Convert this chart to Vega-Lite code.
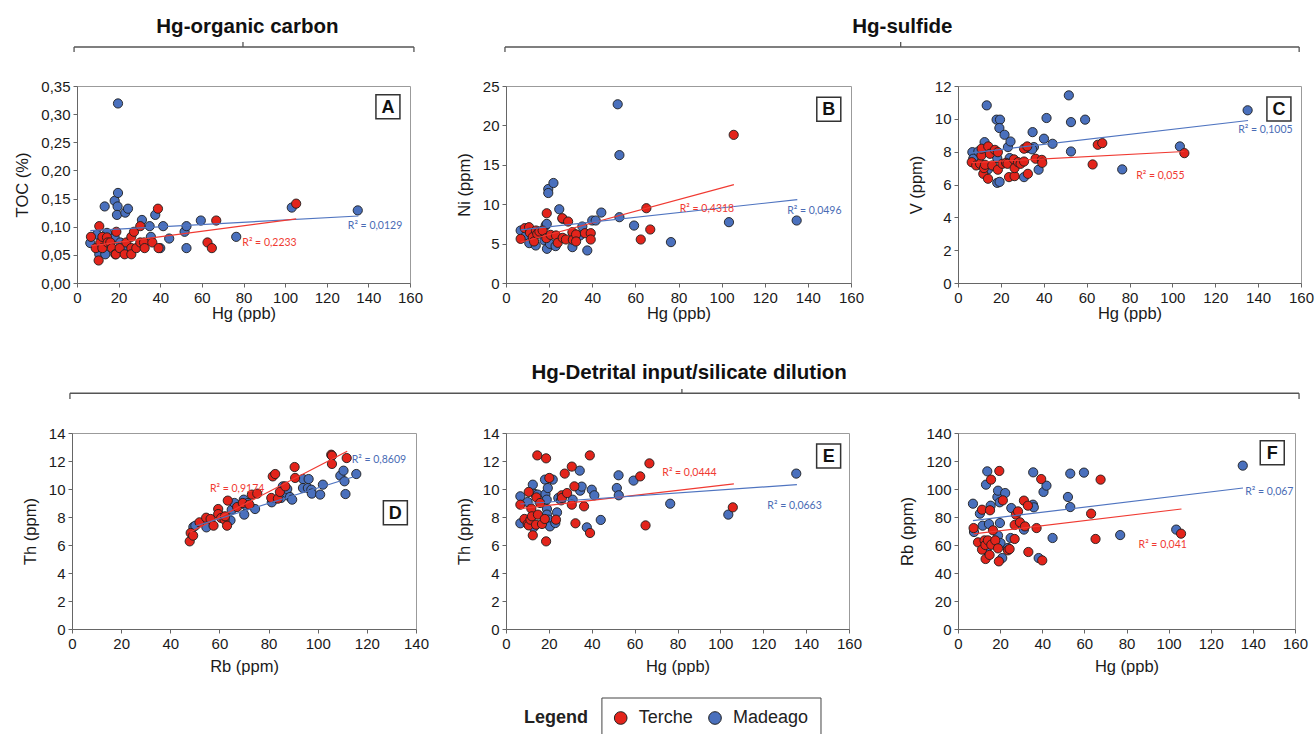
{
"$schema":"https://vega.github.io/schema/vega-lite/v6.json",
"padding":{"left":14,"top":12,"right":5,"bottom":0},
"config":{"font":"Liberation Sans","view":{"stroke":null},
"axis":{"labelFont":"Liberation Sans","labelFontSize":15,"labelColor":"#1a1a1a","labelOverlap":false,"labelFlush":false,"titleFont":"Liberation Sans","titleFontSize":16.5,"titleFontWeight":"normal","titleColor":"#1a1a1a","domainColor":"#666","tickColor":"#666","tickSize":4,"grid":false,"labelPadding":3},
"axisY":{"titlePadding":10}},
"datasets":{
"A":[{"site":"Madeago","x":6.4,"y":0.071},{"site":"Madeago","x":9.6,"y":0.086},{"site":"Madeago","x":10.7,"y":0.051},{"site":"Madeago","x":13.3,"y":0.136},{"site":"Madeago","x":13.6,"y":0.051},{"site":"Madeago","x":14.4,"y":0.089},{"site":"Madeago","x":18.1,"y":0.146},{"site":"Madeago","x":18.1,"y":0.081},{"site":"Madeago","x":19.5,"y":0.136},{"site":"Madeago","x":19.2,"y":0.121},{"site":"Madeago","x":19.7,"y":0.16},{"site":"Madeago","x":19.7,"y":0.319},{"site":"Madeago","x":23.2,"y":0.125},{"site":"Madeago","x":24.5,"y":0.132},{"site":"Madeago","x":20.8,"y":0.072},{"site":"Madeago","x":24,"y":0.062},{"site":"Madeago","x":31.2,"y":0.112},{"site":"Madeago","x":34.9,"y":0.101},{"site":"Madeago","x":35.5,"y":0.082},{"site":"Madeago","x":37.6,"y":0.121},{"site":"Madeago","x":40,"y":0.062},{"site":"Madeago","x":41.4,"y":0.101},{"site":"Madeago","x":44.3,"y":0.079},{"site":"Madeago","x":51.7,"y":0.091},{"site":"Madeago","x":52.6,"y":0.101},{"site":"Madeago","x":52.6,"y":0.062},{"site":"Madeago","x":59.5,"y":0.111},{"site":"Madeago","x":76.5,"y":0.082},{"site":"Madeago","x":103.2,"y":0.134},{"site":"Madeago","x":134.9,"y":0.129},
{"site":"Terche","x":6.7,"y":0.082},{"site":"Terche","x":9,"y":0.062},{"site":"Terche","x":10.4,"y":0.04},{"site":"Terche","x":10.7,"y":0.101},{"site":"Terche","x":11.2,"y":0.072},{"site":"Terche","x":12.2,"y":0.082},{"site":"Terche","x":12.2,"y":0.062},{"site":"Terche","x":14.4,"y":0.081},{"site":"Terche","x":14.7,"y":0.072},{"site":"Terche","x":16,"y":0.072},{"site":"Terche","x":16.8,"y":0.062},{"site":"Terche","x":18.4,"y":0.051},{"site":"Terche","x":18.9,"y":0.091},{"site":"Terche","x":18.7,"y":0.051},{"site":"Terche","x":20.5,"y":0.062},{"site":"Terche","x":22.9,"y":0.051},{"site":"Terche","x":23.7,"y":0.072},{"site":"Terche","x":26.1,"y":0.082},{"site":"Terche","x":26.1,"y":0.062},{"site":"Terche","x":26.1,"y":0.051},{"site":"Terche","x":27.4,"y":0.091},{"site":"Terche","x":28.5,"y":0.062},{"site":"Terche","x":30.4,"y":0.101},{"site":"Terche","x":30.4,"y":0.072},{"site":"Terche","x":32.2,"y":0.072},{"site":"Terche","x":32.5,"y":0.062},{"site":"Terche","x":36.2,"y":0.072},{"site":"Terche","x":38.9,"y":0.132},{"site":"Terche","x":39.2,"y":0.062},{"site":"Terche","x":62.7,"y":0.072},{"site":"Terche","x":64.8,"y":0.062},{"site":"Terche","x":66.9,"y":0.111},{"site":"Terche","x":105.3,"y":0.141}],
"B":[{"site":"Madeago","x":6.8,"y":6.66},{"site":"Madeago","x":9.3,"y":6.03},{"site":"Madeago","x":10.8,"y":5.06},{"site":"Madeago","x":12.7,"y":5.6},{"site":"Madeago","x":13.8,"y":4.76},{"site":"Madeago","x":16.5,"y":6.24},{"site":"Madeago","x":17.8,"y":5.4},{"site":"Madeago","x":18.4,"y":7.29},{"site":"Madeago","x":18.9,"y":7.5},{"site":"Madeago","x":19,"y":4.34},{"site":"Madeago","x":19.6,"y":11.93},{"site":"Madeago","x":19.6,"y":11.42},{"site":"Madeago","x":22,"y":12.69},{"site":"Madeago","x":20.4,"y":4.97},{"site":"Madeago","x":23,"y":4.68},{"site":"Madeago","x":24.7,"y":9.36},{"site":"Madeago","x":26.3,"y":8.14},{"site":"Madeago","x":30.8,"y":4.55},{"site":"Madeago","x":34.3,"y":6.03},{"site":"Madeago","x":35.4,"y":7.17},{"site":"Madeago","x":37.7,"y":4.13},{"site":"Madeago","x":40,"y":7.93},{"site":"Madeago","x":41.6,"y":7.93},{"site":"Madeago","x":44.2,"y":8.94},{"site":"Madeago","x":51.8,"y":22.68},{"site":"Madeago","x":52.6,"y":16.23},{"site":"Madeago","x":52.6,"y":8.35},{"site":"Madeago","x":59.4,"y":7.29},{"site":"Madeago","x":76.5,"y":5.19},{"site":"Madeago","x":103.4,"y":7.72},{"site":"Madeago","x":134.8,"y":7.93},
{"site":"Terche","x":6.8,"y":5.6},{"site":"Terche","x":8.7,"y":6.96},{"site":"Terche","x":10.7,"y":7.08},{"site":"Terche","x":11.1,"y":6.37},{"site":"Terche","x":12.4,"y":5.82},{"site":"Terche","x":13,"y":5.27},{"site":"Terche","x":13.9,"y":6.66},{"site":"Terche","x":14.5,"y":6.24},{"site":"Terche","x":15.5,"y":6.53},{"site":"Terche","x":17,"y":6.66},{"site":"Terche","x":18.9,"y":8.85},{"site":"Terche","x":18.7,"y":5.69},{"site":"Terche","x":20.7,"y":6.11},{"site":"Terche","x":23.2,"y":6.03},{"site":"Terche","x":24,"y":5.1},{"site":"Terche","x":26.1,"y":8.22},{"site":"Terche","x":26.3,"y":5.73},{"site":"Terche","x":27.8,"y":5.52},{"site":"Terche","x":28.8,"y":7.8},{"site":"Terche","x":30.8,"y":6.45},{"site":"Terche","x":31,"y":5.48},{"site":"Terche","x":32.5,"y":6.16},{"site":"Terche","x":32.5,"y":5.27},{"site":"Terche","x":36.6,"y":6.32},{"site":"Terche","x":39.3,"y":6.32},{"site":"Terche","x":39.3,"y":5.52},{"site":"Terche","x":62.5,"y":5.52},{"site":"Terche","x":65.1,"y":9.49},{"site":"Terche","x":66.9,"y":6.79},{"site":"Terche","x":105.6,"y":18.8}],
"C":[{"site":"Madeago","x":6.7,"y":7.97},{"site":"Madeago","x":7.1,"y":7.57},{"site":"Madeago","x":9.5,"y":8.01},{"site":"Madeago","x":12.4,"y":8.58},{"site":"Madeago","x":13.4,"y":10.82},{"site":"Madeago","x":14,"y":6.92},{"site":"Madeago","x":18,"y":9.95},{"site":"Madeago","x":19.6,"y":9.95},{"site":"Madeago","x":19.3,"y":9.44},{"site":"Madeago","x":18.3,"y":7.61},{"site":"Madeago","x":18.3,"y":6.1},{"site":"Madeago","x":19.4,"y":6.16},{"site":"Madeago","x":21.7,"y":9.03},{"site":"Madeago","x":23.3,"y":8.28},{"site":"Madeago","x":24.5,"y":8.62},{"site":"Madeago","x":24.1,"y":7.61},{"site":"Madeago","x":30.8,"y":6.45},{"site":"Madeago","x":32.3,"y":8.22},{"site":"Madeago","x":34.8,"y":9.19},{"site":"Madeago","x":35.4,"y":8.28},{"site":"Madeago","x":34.6,"y":8.14},{"site":"Madeago","x":37.6,"y":6.9},{"site":"Madeago","x":40.1,"y":8.79},{"site":"Madeago","x":41.3,"y":10.05},{"site":"Madeago","x":44.1,"y":8.48},{"site":"Madeago","x":51.7,"y":11.43},{"site":"Madeago","x":52.7,"y":9.8},{"site":"Madeago","x":52.7,"y":8.01},{"site":"Madeago","x":59.3,"y":9.95},{"site":"Madeago","x":76.6,"y":6.92},{"site":"Madeago","x":103.5,"y":8.32},{"site":"Madeago","x":135.1,"y":10.52},
{"site":"Terche","x":6.4,"y":7.36},{"site":"Terche","x":8.5,"y":7.16},{"site":"Terche","x":10.3,"y":7.26},{"site":"Terche","x":10.9,"y":7.77},{"site":"Terche","x":11,"y":8.18},{"site":"Terche","x":11.8,"y":6.65},{"site":"Terche","x":12.1,"y":7},{"site":"Terche","x":12.6,"y":7.2},{"site":"Terche","x":14,"y":6.35},{"site":"Terche","x":14.1,"y":8.32},{"site":"Terche","x":14.9,"y":7.87},{"site":"Terche","x":16,"y":7.16},{"site":"Terche","x":17.2,"y":8.11},{"site":"Terche","x":18.6,"y":6.9},{"site":"Terche","x":18.6,"y":7.97},{"site":"Terche","x":20.7,"y":7.26},{"site":"Terche","x":22.4,"y":7.32},{"site":"Terche","x":23.1,"y":7.26},{"site":"Terche","x":23.8,"y":6.45},{"site":"Terche","x":26.1,"y":7.53},{"site":"Terche","x":26.4,"y":6.51},{"site":"Terche","x":26.4,"y":7},{"site":"Terche","x":28,"y":7.36},{"site":"Terche","x":29.2,"y":7.26},{"site":"Terche","x":30.8,"y":7.4},{"site":"Terche","x":30.8,"y":8.18},{"site":"Terche","x":32.6,"y":6.65},{"site":"Terche","x":32.3,"y":8.32},{"site":"Terche","x":36.2,"y":7.57},{"site":"Terche","x":39.1,"y":7.5},{"site":"Terche","x":39.3,"y":7.32},{"site":"Terche","x":62.8,"y":7.22},{"site":"Terche","x":65.2,"y":8.42},{"site":"Terche","x":67.3,"y":8.52},{"site":"Terche","x":105.6,"y":7.91}],
"D":[{"site":"Madeago","x":49.4,"y":7.29},{"site":"Madeago","x":50.2,"y":7.38},{"site":"Madeago","x":54.7,"y":7.26},{"site":"Madeago","x":60.7,"y":8.05},{"site":"Madeago","x":63.8,"y":7.81},{"site":"Madeago","x":64.5,"y":7.76},{"site":"Madeago","x":65,"y":8.52},{"site":"Madeago","x":66.1,"y":9},{"site":"Madeago","x":69.9,"y":9.24},{"site":"Madeago","x":70.1,"y":8.17},{"site":"Madeago","x":70.9,"y":8.81},{"site":"Madeago","x":71.6,"y":9},{"site":"Madeago","x":74.5,"y":8.57},{"site":"Madeago","x":81.3,"y":9.05},{"site":"Madeago","x":85.1,"y":9.36},{"site":"Madeago","x":85.8,"y":10.19},{"site":"Madeago","x":87.2,"y":9.71},{"site":"Madeago","x":87.6,"y":10},{"site":"Madeago","x":88.7,"y":9.43},{"site":"Madeago","x":89.6,"y":9.24},{"site":"Madeago","x":94,"y":10.71},{"site":"Madeago","x":94,"y":10.07},{"site":"Madeago","x":96,"y":10.07},{"site":"Madeago","x":96.3,"y":10.71},{"site":"Madeago","x":97.4,"y":9.95},{"site":"Madeago","x":97.6,"y":9.67},{"site":"Madeago","x":101,"y":9.6},{"site":"Madeago","x":102.1,"y":10.31},{"site":"Madeago","x":109.2,"y":10.95},{"site":"Madeago","x":110.5,"y":11.31},{"site":"Madeago","x":110.9,"y":10.55},{"site":"Madeago","x":111.3,"y":9.64},{"site":"Madeago","x":115.7,"y":11.07},
{"site":"Terche","x":47.9,"y":6.26},{"site":"Terche","x":48.3,"y":6.86},{"site":"Terche","x":49.3,"y":6.67},{"site":"Terche","x":51.9,"y":7.62},{"site":"Terche","x":54.6,"y":7.95},{"site":"Terche","x":56.4,"y":7.86},{"site":"Terche","x":57.6,"y":7.38},{"site":"Terche","x":59.5,"y":8.57},{"site":"Terche","x":59.5,"y":8.21},{"site":"Terche","x":60.7,"y":7.93},{"site":"Terche","x":62.1,"y":7.81},{"site":"Terche","x":63.1,"y":7.38},{"site":"Terche","x":63.4,"y":9.17},{"site":"Terche","x":62.3,"y":8.05},{"site":"Terche","x":67.2,"y":8.71},{"site":"Terche","x":69.5,"y":9},{"site":"Terche","x":72.2,"y":8.88},{"site":"Terche","x":73.2,"y":9.6},{"site":"Terche","x":75.4,"y":9.67},{"site":"Terche","x":81.1,"y":9.36},{"site":"Terche","x":81.7,"y":10.9},{"site":"Terche","x":82.7,"y":11.07},{"site":"Terche","x":83.8,"y":9.31},{"site":"Terche","x":84.6,"y":9.79},{"site":"Terche","x":86.8,"y":10.19},{"site":"Terche","x":90.6,"y":11.57},{"site":"Terche","x":90.8,"y":10.79},{"site":"Terche","x":105.5,"y":12.45},{"site":"Terche","x":105.8,"y":12.38},{"site":"Terche","x":105.8,"y":11.79},{"site":"Terche","x":111.8,"y":12.21}],
"E":[{"site":"Madeago","x":6.7,"y":9.48},{"site":"Madeago","x":6.7,"y":7.55},{"site":"Madeago","x":10.1,"y":9.07},{"site":"Madeago","x":12.5,"y":10.31},{"site":"Madeago","x":12.9,"y":7.26},{"site":"Madeago","x":13.5,"y":9.64},{"site":"Madeago","x":14.8,"y":9.6},{"site":"Madeago","x":18.2,"y":10.67},{"site":"Madeago","x":18.4,"y":9.64},{"site":"Madeago","x":19,"y":9.24},{"site":"Madeago","x":19.1,"y":8.57},{"site":"Madeago","x":19.1,"y":8.17},{"site":"Madeago","x":19.5,"y":10.07},{"site":"Madeago","x":19.9,"y":7.81},{"site":"Madeago","x":20.5,"y":7.33},{"site":"Madeago","x":21.8,"y":10.67},{"site":"Madeago","x":23,"y":7.57},{"site":"Madeago","x":23.8,"y":8.33},{"site":"Madeago","x":24.4,"y":9.36},{"site":"Madeago","x":25.7,"y":9.19},{"site":"Madeago","x":31.1,"y":9.24},{"site":"Madeago","x":34.4,"y":11.31},{"site":"Madeago","x":34.6,"y":9.88},{"site":"Madeago","x":35.3,"y":10.17},{"site":"Madeago","x":37.7,"y":7.26},{"site":"Madeago","x":40,"y":9.95},{"site":"Madeago","x":41.2,"y":9.55},{"site":"Madeago","x":44.2,"y":7.79},{"site":"Madeago","x":51.7,"y":10.07},{"site":"Madeago","x":52.5,"y":10.98},{"site":"Madeago","x":52.6,"y":9.55},{"site":"Madeago","x":59.5,"y":10.6},{"site":"Madeago","x":76.6,"y":8.95},{"site":"Madeago","x":103.7,"y":8.17},{"site":"Madeago","x":135.4,"y":11.1},
{"site":"Terche","x":6.7,"y":8.88},{"site":"Terche","x":8.6,"y":7.86},{"site":"Terche","x":10.1,"y":7.5},{"site":"Terche","x":10.6,"y":7.4},{"site":"Terche","x":10.6,"y":9.79},{"site":"Terche","x":11.4,"y":7.81},{"site":"Terche","x":11.8,"y":8.6},{"site":"Terche","x":12.1,"y":8.05},{"site":"Terche","x":12.5,"y":6.69},{"site":"Terche","x":14,"y":7.45},{"site":"Terche","x":14.2,"y":9.4},{"site":"Terche","x":14.6,"y":12.4},{"site":"Terche","x":14.9,"y":8.17},{"site":"Terche","x":15.9,"y":9},{"site":"Terche","x":16.8,"y":7.5},{"site":"Terche","x":18.1,"y":7.86},{"site":"Terche","x":18.7,"y":12.19},{"site":"Terche","x":18.7,"y":6.26},{"site":"Terche","x":20.2,"y":10.79},{"site":"Terche","x":23.3,"y":7.81},{"site":"Terche","x":26,"y":9.55},{"site":"Terche","x":26.1,"y":9.36},{"site":"Terche","x":27.4,"y":11.1},{"site":"Terche","x":28.5,"y":9.71},{"site":"Terche","x":30.7,"y":11.6},{"site":"Terche","x":30.7,"y":8.88},{"site":"Terche","x":31.9,"y":10.19},{"site":"Terche","x":32.4,"y":7.55},{"site":"Terche","x":36.4,"y":8.76},{"site":"Terche","x":39.1,"y":12.4},{"site":"Terche","x":39.2,"y":6.86},{"site":"Terche","x":62.6,"y":10.9},{"site":"Terche","x":65.1,"y":7.4},{"site":"Terche","x":66.9,"y":11.83},{"site":"Terche","x":105.8,"y":8.69}],
"F":[{"site":"Madeago","x":7.1,"y":89.5},{"site":"Madeago","x":7.6,"y":69.3},{"site":"Madeago","x":10.4,"y":82.4},{"site":"Madeago","x":11.7,"y":73.8},{"site":"Madeago","x":13.3,"y":103.1},{"site":"Madeago","x":13.9,"y":112.6},{"site":"Madeago","x":14.7,"y":75},{"site":"Madeago","x":15.5,"y":88.1},{"site":"Madeago","x":18.7,"y":94.3},{"site":"Madeago","x":19,"y":98.8},{"site":"Madeago","x":19,"y":66.7},{"site":"Madeago","x":19.8,"y":90.5},{"site":"Madeago","x":19.9,"y":75.7},{"site":"Madeago","x":20.2,"y":61.4},{"site":"Madeago","x":21,"y":50.7},{"site":"Madeago","x":22.4,"y":97.1},{"site":"Madeago","x":23.7,"y":57.9},{"site":"Madeago","x":25,"y":65},{"site":"Madeago","x":25.3,"y":86.4},{"site":"Madeago","x":31.3,"y":71},{"site":"Madeago","x":35.7,"y":111.9},{"site":"Madeago","x":35.6,"y":88.8},{"site":"Madeago","x":36,"y":86.9},{"site":"Madeago","x":38.3,"y":50.7},{"site":"Madeago","x":40.6,"y":97.9},{"site":"Madeago","x":42,"y":102.4},{"site":"Madeago","x":44.9,"y":65},{"site":"Madeago","x":52.2,"y":94.3},{"site":"Madeago","x":53.3,"y":111},{"site":"Madeago","x":53.3,"y":87.1},{"site":"Madeago","x":59.8,"y":111.7},{"site":"Madeago","x":77,"y":67.1},{"site":"Madeago","x":103.6,"y":71},{"site":"Madeago","x":135.2,"y":116.7},{"site":"Madeago","x":13.6,"y":56},
{"site":"Terche","x":7.4,"y":72.1},{"site":"Terche","x":9.5,"y":61.9},{"site":"Terche","x":11.4,"y":85.2},{"site":"Terche","x":11.4,"y":56.7},{"site":"Terche","x":12.6,"y":63.3},{"site":"Terche","x":13,"y":60},{"site":"Terche","x":13.1,"y":50},{"site":"Terche","x":14.2,"y":63.3},{"site":"Terche","x":15,"y":52.9},{"site":"Terche","x":15.2,"y":84.8},{"site":"Terche","x":15.7,"y":106.7},{"site":"Terche","x":15.8,"y":60.2},{"site":"Terche","x":16.6,"y":70.5},{"site":"Terche","x":17.7,"y":63.3},{"site":"Terche","x":19,"y":57.6},{"site":"Terche","x":19.4,"y":48.3},{"site":"Terche","x":19.6,"y":112.9},{"site":"Terche","x":21.3,"y":91.9},{"site":"Terche","x":23.7,"y":56.2},{"site":"Terche","x":24.5,"y":57.1},{"site":"Terche","x":26.9,"y":74.3},{"site":"Terche","x":26.9,"y":64.3},{"site":"Terche","x":27.5,"y":81.7},{"site":"Terche","x":28.5,"y":84},{"site":"Terche","x":29.4,"y":76.2},{"site":"Terche","x":31.3,"y":91.7},{"site":"Terche","x":31.8,"y":73.3},{"site":"Terche","x":33.2,"y":88.1},{"site":"Terche","x":33.4,"y":55},{"site":"Terche","x":37.3,"y":72.1},{"site":"Terche","x":39.5,"y":107.1},{"site":"Terche","x":40,"y":49},{"site":"Terche","x":63.2,"y":82.4},{"site":"Terche","x":65.3,"y":64.3},{"site":"Terche","x":67.7,"y":106.7},{"site":"Terche","x":105.9,"y":68.1}],
"trends":[{"panel":"A","site":"Madeago","x":6.4,"y":0.093},{"panel":"A","site":"Madeago","x":135.2,"y":0.119},{"panel":"A","site":"Terche","x":6.7,"y":0.066},{"panel":"A","site":"Terche","x":105.3,"y":0.114},
{"panel":"B","site":"Terche","x":6.8,"y":5.17},{"panel":"B","site":"Terche","x":105.7,"y":12.48},{"panel":"B","site":"Madeago","x":6.8,"y":6.75},{"panel":"B","site":"Madeago","x":135.1,"y":10.58},
{"panel":"C","site":"Madeago","x":6.7,"y":7.93},{"panel":"C","site":"Madeago","x":135.3,"y":9.9},{"panel":"C","site":"Terche","x":6.4,"y":7.33},{"panel":"C","site":"Terche","x":105.6,"y":8.01},
{"panel":"D","site":"Terche","x":47.9,"y":6.9},{"panel":"D","site":"Terche","x":112,"y":12.69},{"panel":"D","site":"Madeago","x":49.4,"y":7.3},{"panel":"D","site":"Madeago","x":116,"y":10.95},
{"panel":"E","site":"Terche","x":6.7,"y":8.6},{"panel":"E","site":"Terche","x":106.3,"y":10.36},{"panel":"E","site":"Madeago","x":6.7,"y":8.93},{"panel":"E","site":"Madeago","x":135.7,"y":10.31},
{"panel":"F","site":"Madeago","x":7.1,"y":77.4},{"panel":"F","site":"Madeago","x":135.3,"y":100.7},{"panel":"F","site":"Terche","x":7.4,"y":67.9},{"panel":"F","site":"Terche","x":106.1,"y":85.7}],
"labels":[{"panel":"A","site":"Madeago","text":"R² = 0,0129","x":143.2,"y":0.101},{"panel":"A","site":"Terche","text":"R² = 0,2233","x":92.5,"y":0.0705},
{"panel":"B","site":"Terche","text":"R² = 0,4318","x":93.2,"y":9.4},{"panel":"B","site":"Madeago","text":"R² = 0,0496","x":143,"y":9.19},
{"panel":"C","site":"Madeago","text":"R² = 0,1005","x":143.4,"y":9.29},{"panel":"C","site":"Terche","text":"R² = 0,055","x":94.4,"y":6.51},
{"panel":"D","site":"Terche","text":"R² = 0,9174","x":67.2,"y":10},{"panel":"D","site":"Madeago","text":"R² = 0,8609","x":124.9,"y":12.05},
{"panel":"E","site":"Terche","text":"R² = 0,0444","x":85.6,"y":11.14},{"panel":"E","site":"Madeago","text":"R² = 0,0663","x":134.6,"y":8.76},
{"panel":"F","site":"Madeago","text":"R² = 0,067","x":147.8,"y":97.6},{"panel":"F","site":"Terche","text":"R² = 0,041","x":97.2,"y":60.2}],
"letters":[{"panel":"A","letter":"A","x":149.4,"y":0.313},{"panel":"B","letter":"B","x":149.7,"y":22.05},{"panel":"C","letter":"C","x":149.7,"y":10.6},{"panel":"D","letter":"D","x":131.6,"y":8.3},{"panel":"E","letter":"E","x":150.5,"y":12.36},{"panel":"F","letter":"F","x":149.2,"y":125.9}]
},
"columns":6,
"align":"each",
"center":true,
"bounds":"flush",
"spacing":0,
"concat":[
{"width":1,"height":74,"data":{"values":[{}]},"mark":{"type":"point","opacity":0},"encoding":{}},
{"width":344,"height":74,"data":{"values":[{}]},"layer":[
 {"mark":{"type":"rule","color":"#555","strokeWidth":1.3},"encoding":{"x":{"datum":0.006,"type":"quantitative","scale":{"domain":[0,1]},"axis":null},"x2":{"datum":0.994},"y":{"datum":0.527,"type":"quantitative","scale":{"domain":[0,1]},"axis":null}}},
 {"mark":{"type":"rule","color":"#555","strokeWidth":1.3},"encoding":{"x":{"datum":0.006,"type":"quantitative","scale":{"domain":[0,1]},"axis":null},"y":{"datum":0.459,"type":"quantitative","scale":{"domain":[0,1]},"axis":null},"y2":{"datum":0.527}}},
 {"mark":{"type":"rule","color":"#555","strokeWidth":1.3},"encoding":{"x":{"datum":0.994,"type":"quantitative","scale":{"domain":[0,1]},"axis":null},"y":{"datum":0.459,"type":"quantitative","scale":{"domain":[0,1]},"axis":null},"y2":{"datum":0.527}}},
 {"mark":{"type":"rule","color":"#555","strokeWidth":1.3},"encoding":{"x":{"datum":0.497,"type":"quantitative","scale":{"domain":[0,1]},"axis":null},"y":{"datum":0.527,"type":"quantitative","scale":{"domain":[0,1]},"axis":null},"y2":{"datum":0.595}}},
 {"mark":{"type":"text","font":"Liberation Sans","fontSize":20.5,"fontWeight":"bold","baseline":"alphabetic","align":"center","color":"#111"},"encoding":{"x":{"datum":0.51,"type":"quantitative","scale":{"domain":[0,1]},"axis":null},"y":{"datum":0.716,"type":"quantitative","scale":{"domain":[0,1]},"axis":null},"text":{"value":"Hg-organic carbon"}}}
]},
{"width":90,"height":74,"data":{"values":[{}]},"mark":{"type":"point","opacity":0},"encoding":{}},
{"width":345,"height":74,"data":{"values":[{}]},"layer":[
 {"mark":{"type":"rule","color":"#555","strokeWidth":1.3},"encoding":{"x":{"datum":-0.003,"type":"quantitative","scale":{"domain":[0,1]},"axis":null},"x2":{"datum":2.299},"y":{"datum":0.527,"type":"quantitative","scale":{"domain":[0,1]},"axis":null}}},
 {"mark":{"type":"rule","color":"#555","strokeWidth":1.3},"encoding":{"x":{"datum":-0.003,"type":"quantitative","scale":{"domain":[0,1]},"axis":null},"y":{"datum":0.459,"type":"quantitative","scale":{"domain":[0,1]},"axis":null},"y2":{"datum":0.527}}},
 {"mark":{"type":"rule","color":"#555","strokeWidth":1.3},"encoding":{"x":{"datum":2.299,"type":"quantitative","scale":{"domain":[0,1]},"axis":null},"y":{"datum":0.459,"type":"quantitative","scale":{"domain":[0,1]},"axis":null},"y2":{"datum":0.527}}},
 {"mark":{"type":"rule","color":"#555","strokeWidth":1.3},"encoding":{"x":{"datum":1.144,"type":"quantitative","scale":{"domain":[0,1]},"axis":null},"y":{"datum":0.527,"type":"quantitative","scale":{"domain":[0,1]},"axis":null},"y2":{"datum":0.595}}},
 {"mark":{"type":"text","font":"Liberation Sans","fontSize":20.5,"fontWeight":"bold","baseline":"alphabetic","align":"center","color":"#111"},"encoding":{"x":{"datum":1.149,"type":"quantitative","scale":{"domain":[0,1]},"axis":null},"y":{"datum":0.716,"type":"quantitative","scale":{"domain":[0,1]},"axis":null},"text":{"value":"Hg-sulfide"}}}
]},
{"width":106.5,"height":74,"data":{"values":[{}]},"mark":{"type":"point","opacity":0},"encoding":{}},
{"width":1,"height":74,"data":{"values":[{}]},"mark":{"type":"point","opacity":0},"encoding":{}},

{"width":1,"height":197,"data":{"values":[{}]},"mark":{"type":"point","opacity":0},"encoding":{}},
{"width":333,"height":197,"view":{"stroke":"#9b9b9b"},"layer":[
 {"data":{"name":"A"},"mark":{"type":"circle","size":85,"opacity":1,"stroke":"#1e1e1e","strokeWidth":0.9},"encoding":{
  "x":{"field":"x","type":"quantitative","scale":{"domain":[0,160],"nice":false,"zero":false},"axis":{"title":"Hg (ppb)","values":[0,20,40,60,80,100,120,140,160],"format":"d","tickCount":30,"labelOverlap":false,"titlePadding":0}},
  "y":{"field":"y","type":"quantitative","scale":{"domain":[0,0.35],"nice":false,"zero":false},"axis":{"title":"TOC (%)","values":[0,0.05,0.1,0.15,0.2,0.25,0.3,0.35],"tickCount":30,"labelOverlap":false,"labelExpr":"replace(format(datum.value,'.2f'),'.',',')"}},
  "fill":{"field":"site","type":"nominal","scale":{"domain":["Terche","Madeago"],"range":["#e3241b","#4a70bd"]},"legend":null}}},
 {"data":{"name":"trends"},"transform":[{"filter":"datum.panel==='A'"}],"mark":{"type":"line","strokeWidth":1.2},"encoding":{"x":{"field":"x","type":"quantitative"},"y":{"field":"y","type":"quantitative"},"stroke":{"field":"site","type":"nominal","scale":{"domain":["Terche","Madeago"],"range":["#f03a32","#4f74c0"]},"legend":null}}},
 {"data":{"name":"labels"},"transform":[{"filter":"datum.panel==='A'"}],"mark":{"type":"text","font":"Lato","fontSize":10.5},"encoding":{"x":{"field":"x","type":"quantitative"},"y":{"field":"y","type":"quantitative"},"text":{"field":"text"},"color":{"field":"site","type":"nominal","scale":{"domain":["Terche","Madeago"],"range":["#f03a32","#4a6cb5"]},"legend":null}}},
 {"data":{"name":"letters"},"transform":[{"filter":"datum.panel==='A'"}],"mark":{"type":"square","size":576,"color":"white","stroke":"#333","strokeWidth":1.5,"opacity":1},"encoding":{"x":{"field":"x","type":"quantitative"},"y":{"field":"y","type":"quantitative"}}},
 {"data":{"name":"letters"},"transform":[{"filter":"datum.panel==='A'"}],"mark":{"type":"text","font":"Liberation Sans","fontSize":18,"fontWeight":"bold","color":"#111","dy":1},"encoding":{"x":{"field":"x","type":"quantitative"},"y":{"field":"y","type":"quantitative"},"text":{"field":"letter"}}}
]},
{"width":90,"height":197,"data":{"values":[{}]},"mark":{"type":"point","opacity":0},"encoding":{}},
{"width":345,"height":197,"view":{"stroke":"#9b9b9b"},"layer":[
 {"data":{"name":"B"},"mark":{"type":"circle","size":85,"opacity":1,"stroke":"#1e1e1e","strokeWidth":0.9},"encoding":{
  "x":{"field":"x","type":"quantitative","scale":{"domain":[0,160],"nice":false,"zero":false},"axis":{"title":"Hg (ppb)","values":[0,20,40,60,80,100,120,140,160],"format":"d","tickCount":30,"labelOverlap":false,"titlePadding":0}},
  "y":{"field":"y","type":"quantitative","scale":{"domain":[0,25],"nice":false,"zero":false},"axis":{"title":"Ni (ppm)","values":[0,5,10,15,20,25],"format":"d","tickCount":30,"labelOverlap":false}},
  "fill":{"field":"site","type":"nominal","scale":{"domain":["Terche","Madeago"],"range":["#e3241b","#4a70bd"]},"legend":null}}},
 {"data":{"name":"trends"},"transform":[{"filter":"datum.panel==='B'"}],"mark":{"type":"line","strokeWidth":1.2},"encoding":{"x":{"field":"x","type":"quantitative"},"y":{"field":"y","type":"quantitative"},"stroke":{"field":"site","type":"nominal","scale":{"domain":["Terche","Madeago"],"range":["#f03a32","#4f74c0"]},"legend":null}}},
 {"data":{"name":"labels"},"transform":[{"filter":"datum.panel==='B'"}],"mark":{"type":"text","font":"Lato","fontSize":10.5},"encoding":{"x":{"field":"x","type":"quantitative"},"y":{"field":"y","type":"quantitative"},"text":{"field":"text"},"color":{"field":"site","type":"nominal","scale":{"domain":["Terche","Madeago"],"range":["#f03a32","#4a6cb5"]},"legend":null}}},
 {"data":{"name":"letters"},"transform":[{"filter":"datum.panel==='B'"}],"mark":{"type":"square","size":576,"color":"white","stroke":"#333","strokeWidth":1.5,"opacity":1},"encoding":{"x":{"field":"x","type":"quantitative"},"y":{"field":"y","type":"quantitative"}}},
 {"data":{"name":"letters"},"transform":[{"filter":"datum.panel==='B'"}],"mark":{"type":"text","font":"Liberation Sans","fontSize":18,"fontWeight":"bold","color":"#111","dy":1},"encoding":{"x":{"field":"x","type":"quantitative"},"y":{"field":"y","type":"quantitative"},"text":{"field":"letter"}}}
]},
{"width":106.5,"height":197,"data":{"values":[{}]},"mark":{"type":"point","opacity":0},"encoding":{}},
{"width":343,"height":197,"view":{"stroke":"#9b9b9b"},"layer":[
 {"data":{"name":"C"},"mark":{"type":"circle","size":85,"opacity":1,"stroke":"#1e1e1e","strokeWidth":0.9},"encoding":{
  "x":{"field":"x","type":"quantitative","scale":{"domain":[0,160],"nice":false,"zero":false},"axis":{"title":"Hg (ppb)","values":[0,20,40,60,80,100,120,140,160],"format":"d","tickCount":30,"labelOverlap":false,"titlePadding":0}},
  "y":{"field":"y","type":"quantitative","scale":{"domain":[0,12],"nice":false,"zero":false},"axis":{"title":"V (ppm)","values":[0,2,4,6,8,10,12],"format":"d","tickCount":30,"labelOverlap":false}},
  "fill":{"field":"site","type":"nominal","scale":{"domain":["Terche","Madeago"],"range":["#e3241b","#4a70bd"]},"legend":null}}},
 {"data":{"name":"trends"},"transform":[{"filter":"datum.panel==='C'"}],"mark":{"type":"line","strokeWidth":1.2},"encoding":{"x":{"field":"x","type":"quantitative"},"y":{"field":"y","type":"quantitative"},"stroke":{"field":"site","type":"nominal","scale":{"domain":["Terche","Madeago"],"range":["#f03a32","#4f74c0"]},"legend":null}}},
 {"data":{"name":"labels"},"transform":[{"filter":"datum.panel==='C'"}],"mark":{"type":"text","font":"Lato","fontSize":10.5},"encoding":{"x":{"field":"x","type":"quantitative"},"y":{"field":"y","type":"quantitative"},"text":{"field":"text"},"color":{"field":"site","type":"nominal","scale":{"domain":["Terche","Madeago"],"range":["#f03a32","#4a6cb5"]},"legend":null}}},
 {"data":{"name":"letters"},"transform":[{"filter":"datum.panel==='C'"}],"mark":{"type":"square","size":576,"color":"white","stroke":"#333","strokeWidth":1.5,"opacity":1},"encoding":{"x":{"field":"x","type":"quantitative"},"y":{"field":"y","type":"quantitative"}}},
 {"data":{"name":"letters"},"transform":[{"filter":"datum.panel==='C'"}],"mark":{"type":"text","font":"Liberation Sans","fontSize":18,"fontWeight":"bold","color":"#111","dy":1},"encoding":{"x":{"field":"x","type":"quantitative"},"y":{"field":"y","type":"quantitative"},"text":{"field":"letter"}}}
]},

{"width":1,"height":150,"data":{"values":[{}]},"mark":{"type":"point","opacity":0},"encoding":{}},
{"width":344,"height":150,"data":{"values":[{}]},"layer":[
 {"mark":{"type":"rule","color":"#555","strokeWidth":1.3},"encoding":{"x":{"datum":-0.006,"type":"quantitative","scale":{"domain":[0,1]},"axis":null},"x2":{"datum":3.567},"y":{"datum":0.265,"type":"quantitative","scale":{"domain":[0,1]},"axis":null}}},
 {"mark":{"type":"rule","color":"#555","strokeWidth":1.3},"encoding":{"x":{"datum":-0.006,"type":"quantitative","scale":{"domain":[0,1]},"axis":null},"y":{"datum":0.227,"type":"quantitative","scale":{"domain":[0,1]},"axis":null},"y2":{"datum":0.265}}},
 {"mark":{"type":"rule","color":"#555","strokeWidth":1.3},"encoding":{"x":{"datum":3.567,"type":"quantitative","scale":{"domain":[0,1]},"axis":null},"y":{"datum":0.227,"type":"quantitative","scale":{"domain":[0,1]},"axis":null},"y2":{"datum":0.265}}},
 {"mark":{"type":"rule","color":"#555","strokeWidth":1.3},"encoding":{"x":{"datum":1.773,"type":"quantitative","scale":{"domain":[0,1]},"axis":null},"y":{"datum":0.265,"type":"quantitative","scale":{"domain":[0,1]},"axis":null},"y2":{"datum":0.293}}},
 {"mark":{"type":"text","font":"Liberation Sans","fontSize":20.5,"fontWeight":"bold","baseline":"alphabetic","align":"center","color":"#111"},"encoding":{"x":{"datum":1.794,"type":"quantitative","scale":{"domain":[0,1]},"axis":null},"y":{"datum":0.357,"type":"quantitative","scale":{"domain":[0,1]},"axis":null},"text":{"value":"Hg-Detrital input/silicate dilution"}}}
]},
{"width":1,"height":150,"data":{"values":[{}]},"mark":{"type":"point","opacity":0},"encoding":{}},
{"width":1,"height":150,"data":{"values":[{}]},"mark":{"type":"point","opacity":0},"encoding":{}},
{"width":1,"height":150,"data":{"values":[{}]},"mark":{"type":"point","opacity":0},"encoding":{}},
{"width":1,"height":150,"data":{"values":[{}]},"mark":{"type":"point","opacity":0},"encoding":{}},

{"width":1,"height":196,"data":{"values":[{}]},"mark":{"type":"point","opacity":0},"encoding":{}},
{"width":344,"height":196,"view":{"stroke":"#9b9b9b"},"layer":[
 {"data":{"name":"D"},"mark":{"type":"circle","size":85,"opacity":1,"stroke":"#1e1e1e","strokeWidth":0.9},"encoding":{
  "x":{"field":"x","type":"quantitative","scale":{"domain":[0,140],"nice":false,"zero":false},"axis":{"title":"Rb (ppm)","values":[0,20,40,60,80,100,120,140],"format":"d","tickCount":30,"labelOverlap":false,"titlePadding":7}},
  "y":{"field":"y","type":"quantitative","scale":{"domain":[0,14],"nice":false,"zero":false},"axis":{"title":"Th (ppm)","values":[0,2,4,6,8,10,12,14],"format":"d","tickCount":30,"labelOverlap":false}},
  "fill":{"field":"site","type":"nominal","scale":{"domain":["Terche","Madeago"],"range":["#e3241b","#4a70bd"]},"legend":null}}},
 {"data":{"name":"trends"},"transform":[{"filter":"datum.panel==='D'"}],"mark":{"type":"line","strokeWidth":1.2},"encoding":{"x":{"field":"x","type":"quantitative"},"y":{"field":"y","type":"quantitative"},"stroke":{"field":"site","type":"nominal","scale":{"domain":["Terche","Madeago"],"range":["#f03a32","#4f74c0"]},"legend":null}}},
 {"data":{"name":"labels"},"transform":[{"filter":"datum.panel==='D'"}],"mark":{"type":"text","font":"Lato","fontSize":10.5},"encoding":{"x":{"field":"x","type":"quantitative"},"y":{"field":"y","type":"quantitative"},"text":{"field":"text"},"color":{"field":"site","type":"nominal","scale":{"domain":["Terche","Madeago"],"range":["#f03a32","#4a6cb5"]},"legend":null}}},
 {"data":{"name":"letters"},"transform":[{"filter":"datum.panel==='D'"}],"mark":{"type":"square","size":576,"color":"white","stroke":"#333","strokeWidth":1.5,"opacity":1},"encoding":{"x":{"field":"x","type":"quantitative"},"y":{"field":"y","type":"quantitative"}}},
 {"data":{"name":"letters"},"transform":[{"filter":"datum.panel==='D'"}],"mark":{"type":"text","font":"Liberation Sans","fontSize":18,"fontWeight":"bold","color":"#111","dy":1},"encoding":{"x":{"field":"x","type":"quantitative"},"y":{"field":"y","type":"quantitative"},"text":{"field":"letter"}}}
]},
{"width":1,"height":196,"data":{"values":[{}]},"mark":{"type":"point","opacity":0},"encoding":{}},
{"width":343,"height":196,"view":{"stroke":"#9b9b9b"},"layer":[
 {"data":{"name":"E"},"mark":{"type":"circle","size":85,"opacity":1,"stroke":"#1e1e1e","strokeWidth":0.9},"encoding":{
  "x":{"field":"x","type":"quantitative","scale":{"domain":[0,160],"nice":false,"zero":false},"axis":{"title":"Hg (ppb)","values":[0,20,40,60,80,100,120,140,160],"format":"d","tickCount":30,"labelOverlap":false,"titlePadding":7}},
  "y":{"field":"y","type":"quantitative","scale":{"domain":[0,14],"nice":false,"zero":false},"axis":{"title":"Th (ppm)","values":[0,2,4,6,8,10,12,14],"format":"d","tickCount":30,"labelOverlap":false}},
  "fill":{"field":"site","type":"nominal","scale":{"domain":["Terche","Madeago"],"range":["#e3241b","#4a70bd"]},"legend":null}}},
 {"data":{"name":"trends"},"transform":[{"filter":"datum.panel==='E'"}],"mark":{"type":"line","strokeWidth":1.2},"encoding":{"x":{"field":"x","type":"quantitative"},"y":{"field":"y","type":"quantitative"},"stroke":{"field":"site","type":"nominal","scale":{"domain":["Terche","Madeago"],"range":["#f03a32","#4f74c0"]},"legend":null}}},
 {"data":{"name":"labels"},"transform":[{"filter":"datum.panel==='E'"}],"mark":{"type":"text","font":"Lato","fontSize":10.5},"encoding":{"x":{"field":"x","type":"quantitative"},"y":{"field":"y","type":"quantitative"},"text":{"field":"text"},"color":{"field":"site","type":"nominal","scale":{"domain":["Terche","Madeago"],"range":["#f03a32","#4a6cb5"]},"legend":null}}},
 {"data":{"name":"letters"},"transform":[{"filter":"datum.panel==='E'"}],"mark":{"type":"square","size":576,"color":"white","stroke":"#333","strokeWidth":1.5,"opacity":1},"encoding":{"x":{"field":"x","type":"quantitative"},"y":{"field":"y","type":"quantitative"}}},
 {"data":{"name":"letters"},"transform":[{"filter":"datum.panel==='E'"}],"mark":{"type":"text","font":"Liberation Sans","fontSize":18,"fontWeight":"bold","color":"#111","dy":1},"encoding":{"x":{"field":"x","type":"quantitative"},"y":{"field":"y","type":"quantitative"},"text":{"field":"letter"}}}
]},
{"width":1,"height":196,"data":{"values":[{}]},"mark":{"type":"point","opacity":0},"encoding":{}},
{"width":337,"height":196,"view":{"stroke":"#9b9b9b"},"layer":[
 {"data":{"name":"F"},"mark":{"type":"circle","size":85,"opacity":1,"stroke":"#1e1e1e","strokeWidth":0.9},"encoding":{
  "x":{"field":"x","type":"quantitative","scale":{"domain":[0,160],"nice":false,"zero":false},"axis":{"title":"Hg (ppb)","values":[0,20,40,60,80,100,120,140,160],"format":"d","tickCount":30,"labelOverlap":false,"titlePadding":7}},
  "y":{"field":"y","type":"quantitative","scale":{"domain":[0,140],"nice":false,"zero":false},"axis":{"title":"Rb (ppm)","values":[0,20,40,60,80,100,120,140],"format":"d","tickCount":30,"labelOverlap":false}},
  "fill":{"field":"site","type":"nominal","scale":{"domain":["Terche","Madeago"],"range":["#e3241b","#4a70bd"]},"legend":null}}},
 {"data":{"name":"trends"},"transform":[{"filter":"datum.panel==='F'"}],"mark":{"type":"line","strokeWidth":1.2},"encoding":{"x":{"field":"x","type":"quantitative"},"y":{"field":"y","type":"quantitative"},"stroke":{"field":"site","type":"nominal","scale":{"domain":["Terche","Madeago"],"range":["#f03a32","#4f74c0"]},"legend":null}}},
 {"data":{"name":"labels"},"transform":[{"filter":"datum.panel==='F'"}],"mark":{"type":"text","font":"Lato","fontSize":10.5},"encoding":{"x":{"field":"x","type":"quantitative"},"y":{"field":"y","type":"quantitative"},"text":{"field":"text"},"color":{"field":"site","type":"nominal","scale":{"domain":["Terche","Madeago"],"range":["#f03a32","#4a6cb5"]},"legend":null}}},
 {"data":{"name":"letters"},"transform":[{"filter":"datum.panel==='F'"}],"mark":{"type":"square","size":576,"color":"white","stroke":"#333","strokeWidth":1.5,"opacity":1},"encoding":{"x":{"field":"x","type":"quantitative"},"y":{"field":"y","type":"quantitative"}}},
 {"data":{"name":"letters"},"transform":[{"filter":"datum.panel==='F'"}],"mark":{"type":"text","font":"Liberation Sans","fontSize":18,"fontWeight":"bold","color":"#111","dy":1},"encoding":{"x":{"field":"x","type":"quantitative"},"y":{"field":"y","type":"quantitative"},"text":{"field":"letter"}}}
]},

{"width":1,"height":69,"data":{"values":[{}]},"mark":{"type":"point","opacity":0},"encoding":{}},
{"width":1,"height":69,"data":{"values":[{}]},"mark":{"type":"point","opacity":0},"encoding":{}},
{"width":1,"height":69,"data":{"values":[{}]},"mark":{"type":"point","opacity":0},"encoding":{}},
{"width":1,"height":69,"data":{"values":[{}]},"mark":{"type":"point","opacity":0},"encoding":{}},
{"width":1,"height":69,"data":{"values":[{}]},"mark":{"type":"point","opacity":0},"encoding":{}},
{"width":1,"height":69,"data":{"values":[{}]},"mark":{"type":"point","opacity":0},"encoding":{}},

{"width":1,"height":40,"data":{"values":[{}]},"mark":{"type":"point","opacity":0},"encoding":{}},
{"width":1,"height":40,"data":{"values":[{}]},"mark":{"type":"point","opacity":0},"encoding":{}},
{"width":1,"height":40,"data":{"values":[{}]},"mark":{"type":"point","opacity":0},"encoding":{}},
{"width":345,"height":40,"data":{"values":[{}]},
 "layer":[
  {"mark":{"type":"rect","fill":null,"fillOpacity":0,"stroke":"#444","strokeWidth":1},"encoding":{"x":{"datum":0.278,"type":"quantitative","scale":{"domain":[0,1]},"axis":null},"x2":{"datum":0.913},"y":{"datum":0,"type":"quantitative","scale":{"domain":[0,1]},"axis":null},"y2":{"datum":1}}},
  {"mark":{"type":"text","font":"Liberation Sans","fontSize":18,"fontWeight":"bold","align":"left","baseline":"middle","color":"#222"},"encoding":{"x":{"datum":0.052,"type":"quantitative","scale":{"domain":[0,1]},"axis":null},"y":{"datum":0.5,"type":"quantitative","scale":{"domain":[0,1]},"axis":null},"text":{"value":"Legend"}}},
  {"mark":{"type":"circle","size":160,"opacity":1,"stroke":"#222","strokeWidth":1,"fill":"#e3241b"},"encoding":{"x":{"datum":0.3325,"type":"quantitative","scale":{"domain":[0,1]},"axis":null},"y":{"datum":0.5,"type":"quantitative","scale":{"domain":[0,1]},"axis":null}}},
  {"mark":{"type":"text","font":"Liberation Sans","fontSize":18,"align":"left","baseline":"middle","dx":18,"color":"#222"},"encoding":{"x":{"datum":0.3325,"type":"quantitative","scale":{"domain":[0,1]},"axis":null},"y":{"datum":0.5,"type":"quantitative","scale":{"domain":[0,1]},"axis":null},"text":{"value":"Terche"}}},
  {"mark":{"type":"circle","size":160,"opacity":1,"stroke":"#222","strokeWidth":1,"fill":"#4a70bd"},"encoding":{"x":{"datum":0.6058,"type":"quantitative","scale":{"domain":[0,1]},"axis":null},"y":{"datum":0.5,"type":"quantitative","scale":{"domain":[0,1]},"axis":null}}},
  {"mark":{"type":"text","font":"Liberation Sans","fontSize":18,"align":"left","baseline":"middle","dx":18,"color":"#222"},"encoding":{"x":{"datum":0.6058,"type":"quantitative","scale":{"domain":[0,1]},"axis":null},"y":{"datum":0.5,"type":"quantitative","scale":{"domain":[0,1]},"axis":null},"text":{"value":"Madeago"}}}
 ]},
{"width":1,"height":40,"data":{"values":[{}]},"mark":{"type":"point","opacity":0},"encoding":{}},
{"width":1,"height":40,"data":{"values":[{}]},"mark":{"type":"point","opacity":0},"encoding":{}}
]
}
